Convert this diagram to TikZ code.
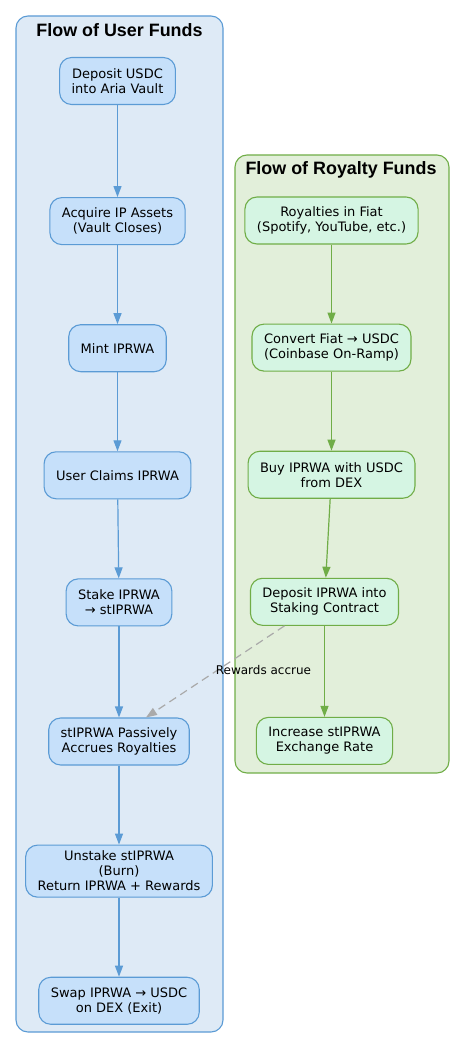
\documentclass[tikz,border=0pt]{standalone}
\usepackage{fontspec}
\setmainfont{DejaVu Sans}
\newfontfamily\titlefont{Liberation Sans}
\usetikzlibrary{arrows.meta,positioning}
\definecolor{userbg}{RGB}{222,234,246}
\definecolor{userline}{RGB}{91,155,213}
\definecolor{userfill}{RGB}{198,224,250}
\definecolor{roybg}{RGB}{226,239,218}
\definecolor{royline}{RGB}{112,173,71}
\definecolor{royfill}{RGB}{213,245,227}
\definecolor{accruegray}{RGB}{170,170,170}

\begin{document}
\begin{tikzpicture}[x=1pt,y=-1pt,
    node distance=79pt,
    userbox/.style={rectangle,draw=userline,fill=userfill,rounded corners=12pt,line width=1.1pt,
                    minimum height=47pt,inner xsep=12pt,inner ysep=6pt,align=center,
                    font=\fontsize{13}{15}\selectfont},
    roybox/.style={userbox,draw=royline,fill=royfill},
    cluster/.style={rounded corners=12pt,line width=1.1pt},
    clustertitle/.style={font=\titlefont\bfseries\fontsize{17.9}{21}\selectfont},
    arrow/.style={-{Triangle[length=11pt,width=8pt]},line width=1.2pt},
    lbl/.style={inner sep=0pt,font=\fontsize{12}{14}\selectfont}
]
    \useasboundingbox (0,0) rectangle (465,1051);
    % clusters
    \draw[cluster,draw=userline,fill=userbg] (16,16) rectangle (223,1032);
    \draw[cluster,draw=royline,fill=roybg] (235,155) rectangle (449,773);
    \node[clustertitle] (usertitle) at (119.5,30) {Flow of User Funds};
    \node[clustertitle] (roytitle) at (341,170) {Flow of Royalty Funds};

    % user funds
    \node[userbox] (deposit) at (117.5,81) {Deposit USDC\\into Aria Vault};
    \node[userbox,below=92pt of deposit] (acquire) {Acquire IP Assets\\(Vault Closes)};
    \node[userbox,below=of acquire] (mint) {Mint IPRWA};
    \node[userbox,below=of mint] (claim) {User Claims IPRWA};
    \node[userbox,below=of claim,xshift=1.5pt] (stake) {Stake IPRWA\\→ stIPRWA};
    \node[userbox,below=91pt of stake] (accrue) {stIPRWA Passively\\Accrues Royalties};
    \node[userbox,below=of accrue] (unstake) {Unstake stIPRWA\\(Burn)\\Return IPRWA + Rewards};
    \node[userbox,below=of unstake] (swap) {Swap IPRWA → USDC\\on DEX (Exit)};

    % royalty funds
    \node[roybox] (fiat) at (331.5,220.5) {Royalties in Fiat\\(Spotify, YouTube, etc.)};
    \node[roybox,below=of fiat] (convert) {Convert Fiat → USDC\\(Coinbase On-Ramp)};
    \node[roybox,below=of convert] (buy) {Buy IPRWA with USDC\\from DEX};
    \node[roybox,below=of buy,xshift=-7pt] (stakecon) {Deposit IPRWA into\\Staking Contract};
    \node[roybox,below=91pt of stakecon] (rate) {Increase stIPRWA\\Exchange Rate};

    \draw[arrow,userline] (deposit)--(acquire);
    \draw[arrow,userline] (acquire)--(mint);
    \draw[arrow,userline] (mint)--(claim);
    \draw[arrow,userline] (claim)--(stake);
    \draw[arrow,userline] (stake)--(accrue);
    \draw[arrow,userline] (accrue)--(unstake);
    \draw[arrow,userline] (unstake)--(swap);

    \draw[arrow,royline] (fiat)--(convert);
    \draw[arrow,royline] (convert)--(buy);
    \draw[arrow,royline] (buy)--(stakecon);
    \draw[arrow,royline] (stakecon)--(rate);

    \draw[arrow,accruegray,dash pattern=on 8pt off 5pt]
        ([xshift=-40pt]stakecon.south)--([xshift=27pt]accrue.north)
        node[midway,anchor=west,yshift=2pt,lbl,text=black] {Rewards accrue};
\end{tikzpicture}
\end{document}
